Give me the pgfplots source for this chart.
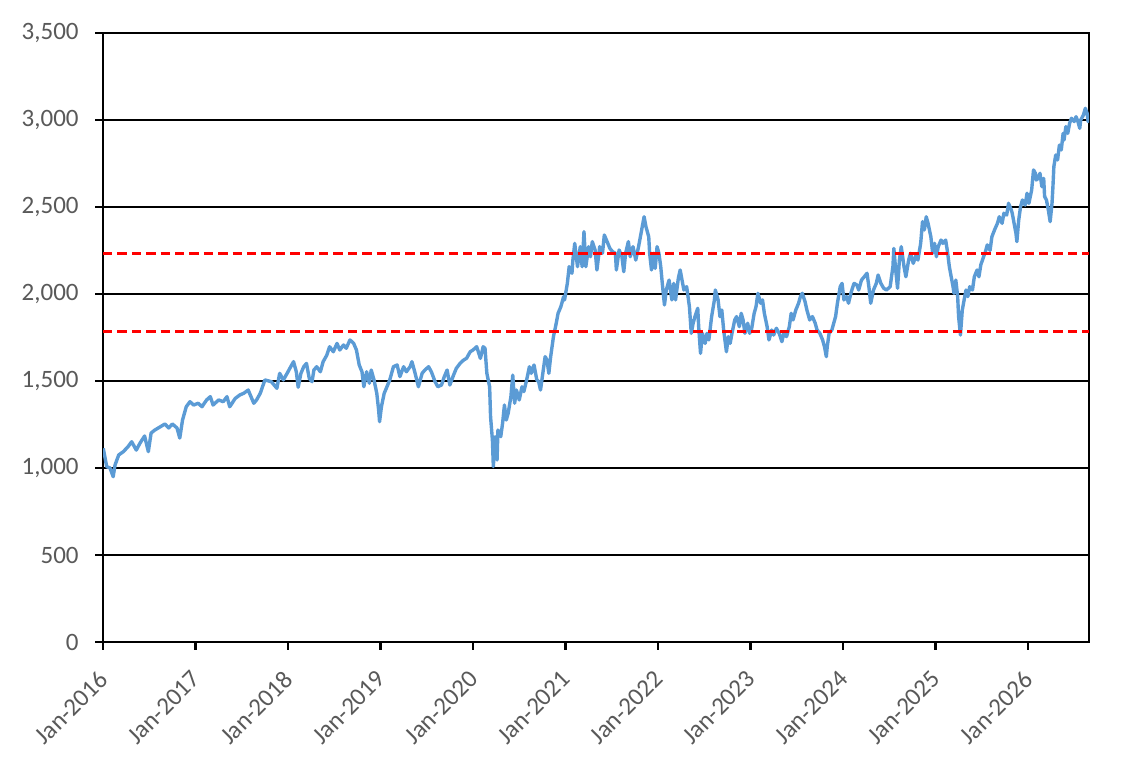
\documentclass[border=0pt]{standalone}
\usepackage{fontspec}
\setmainfont{Carlito}
\usepackage{pgfplots}
\usepackage{pgfplotstable}
\pgfplotsset{compat=1.18}
\definecolor{lineblue}{HTML}{5B9BD5}
\definecolor{ticktext}{HTML}{595959}
\pgfplotstableread{
year value
2016.003 1113
2016.04 1008
2016.076 1000
2016.11 950
2016.13 1017
2016.17 1075
2016.22 1094
2016.27 1122
2016.31 1151
2016.36 1103
2016.40 1143
2016.45 1184
2016.49 1094
2016.52 1201
2016.56 1218
2016.62 1237
2016.67 1253
2016.71 1230
2016.75 1253
2016.80 1230
2016.83 1172
2016.86 1276
2016.90 1352
2016.94 1381
2016.98 1362
2017.03 1372
2017.07 1352
2017.12 1391
2017.16 1410
2017.19 1362
2017.25 1391
2017.30 1381
2017.34 1410
2017.37 1352
2017.43 1400
2017.48 1420
2017.52 1429
2017.57 1448
2017.63 1372
2017.66 1391
2017.70 1429
2017.75 1506
2017.82 1496
2017.88 1458
2017.91 1544
2017.95 1506
2018.00 1553
2018.02 1573
2018.06 1611
2018.09 1553
2018.11 1464
2018.14 1544
2018.17 1582
2018.20 1601
2018.23 1515
2018.26 1496
2018.28 1563
2018.31 1582
2018.35 1553
2018.38 1611
2018.42 1649
2018.45 1697
2018.49 1668
2018.53 1716
2018.56 1678
2018.60 1707
2018.63 1688
2018.67 1736
2018.71 1716
2018.74 1678
2018.77 1592
2018.80 1553
2018.82 1467
2018.85 1553
2018.88 1487
2018.90 1563
2018.93 1506
2018.96 1429
2018.98 1333
2018.99 1266
2019.01 1352
2019.04 1429
2019.07 1467
2019.10 1506
2019.14 1582
2019.18 1592
2019.21 1525
2019.25 1582
2019.28 1553
2019.32 1582
2019.34 1611
2019.37 1553
2019.41 1467
2019.45 1544
2019.48 1563
2019.52 1582
2019.55 1553
2019.59 1496
2019.62 1467
2019.66 1477
2019.69 1525
2019.72 1563
2019.75 1477
2019.79 1534
2019.82 1573
2019.86 1601
2019.90 1621
2019.93 1630
2019.97 1668
2020.00 1678
2020.04 1697
2020.08 1630
2020.11 1697
2020.13 1688
2020.15 1544
2020.18 1467
2020.19 1295
2020.21 1161
2020.22 1008
2020.24 1180
2020.26 1046
2020.27 1218
2020.30 1180
2020.32 1257
2020.34 1362
2020.36 1276
2020.38 1314
2020.41 1410
2020.43 1534
2020.45 1372
2020.47 1448
2020.50 1391
2020.53 1467
2020.55 1439
2020.58 1506
2020.61 1582
2020.63 1544
2020.66 1592
2020.69 1506
2020.71 1496
2020.73 1448
2020.75 1525
2020.78 1640
2020.80 1621
2020.82 1544
2020.84 1640
2020.87 1755
2020.90 1832
2020.92 1889
2020.95 1927
2020.98 1985
2020.99 1966
2021.02 2061
2021.04 2157
2021.07 2119
2021.08 2195
2021.10 2291
2021.13 2157
2021.16 2272
2021.18 2157
2021.20 2358
2021.22 2157
2021.25 2272
2021.27 2214
2021.29 2301
2021.32 2253
2021.34 2138
2021.37 2272
2021.40 2234
2021.42 2339
2021.45 2301
2021.48 2262
2021.51 2243
2021.54 2234
2021.55 2138
2021.58 2253
2021.61 2214
2021.63 2128
2021.65 2234
2021.68 2301
2021.70 2214
2021.73 2272
2021.76 2195
2021.79 2272
2021.81 2329
2021.83 2387
2021.85 2444
2021.87 2387
2021.90 2329
2021.91 2234
2021.93 2138
2021.95 2234
2021.97 2147
2021.99 2272
2022.01 2234
2022.03 2157
2022.05 2042
2022.07 1937
2022.09 2023
2022.12 2080
2022.15 1966
2022.17 2061
2022.19 1966
2022.22 2090
2022.24 2138
2022.26 2080
2022.28 2023
2022.31 2042
2022.34 1927
2022.36 1774
2022.38 1832
2022.40 1870
2022.43 1918
2022.44 1812
2022.46 1659
2022.48 1774
2022.51 1716
2022.53 1774
2022.55 1736
2022.58 1870
2022.61 1966
2022.62 2023
2022.65 1966
2022.67 1870
2022.69 1908
2022.71 1793
2022.74 1668
2022.76 1755
2022.78 1716
2022.80 1774
2022.83 1851
2022.85 1870
2022.88 1812
2022.90 1889
2022.92 1851
2022.94 1774
2022.97 1832
2022.99 1774
2023.01 1793
2023.04 1889
2023.06 1927
2023.08 2004
2023.11 1947
2023.13 1966
2023.15 1889
2023.18 1812
2023.20 1736
2023.23 1793
2023.25 1764
2023.28 1803
2023.31 1774
2023.34 1726
2023.36 1774
2023.39 1755
2023.42 1812
2023.44 1889
2023.46 1851
2023.49 1908
2023.52 1947
2023.54 1985
2023.56 2004
2023.59 1956
2023.61 1908
2023.64 1851
2023.67 1870
2023.70 1832
2023.72 1793
2023.75 1774
2023.78 1736
2023.80 1697
2023.82 1640
2023.83 1697
2023.85 1774
2023.88 1793
2023.90 1832
2023.92 1870
2023.94 1947
2023.97 2042
2023.99 2061
2024.01 1966
2024.04 1985
2024.06 1947
2024.09 2013
2024.12 2061
2024.15 2052
2024.17 2023
2024.20 2080
2024.23 2099
2024.26 2119
2024.28 2042
2024.30 1947
2024.33 2023
2024.36 2061
2024.38 2109
2024.41 2061
2024.44 2033
2024.47 2023
2024.51 2042
2024.54 2157
2024.55 2262
2024.57 2138
2024.59 2033
2024.61 2195
2024.63 2272
2024.66 2157
2024.68 2099
2024.71 2195
2024.73 2234
2024.76 2176
2024.79 2224
2024.81 2195
2024.84 2291
2024.86 2416
2024.88 2368
2024.90 2444
2024.92 2406
2024.95 2329
2024.97 2234
2024.99 2291
2025.01 2214
2025.03 2272
2025.06 2310
2025.08 2291
2025.11 2310
2025.13 2243
2025.15 2157
2025.17 2099
2025.19 2042
2025.20 2004
2025.22 2080
2025.24 1985
2025.25 1870
2025.27 1764
2025.29 1908
2025.31 1966
2025.33 2023
2025.35 1985
2025.37 2042
2025.40 2023
2025.42 2099
2025.45 2138
2025.47 2099
2025.49 2167
2025.52 2214
2025.54 2243
2025.56 2282
2025.59 2250
2025.61 2329
2025.64 2370
2025.67 2406
2025.69 2444
2025.72 2406
2025.74 2464
2025.77 2454
2025.79 2521
2025.82 2483
2025.83 2464
2025.85 2406
2025.87 2349
2025.88 2301
2025.90 2425
2025.92 2502
2025.94 2540
2025.97 2511
2025.99 2579
2026.01 2521
2026.04 2598
2026.06 2713
2026.08 2694
2026.09 2655
2026.11 2665
2026.13 2694
2026.15 2617
2026.17 2665
2026.18 2560
2026.20 2540
2026.22 2483
2026.24 2416
2026.26 2521
2026.27 2617
2026.28 2732
2026.30 2799
2026.32 2770
2026.34 2856
2026.36 2828
2026.38 2923
2026.39 2885
2026.41 2962
2026.43 2923
2026.45 2981
2026.47 3010
2026.50 2991
2026.52 3019
2026.54 2991
2026.56 2952
2026.57 3000
2026.60 3029
2026.62 3067
2026.64 3038
2026.65 2991
2026.66 3010
}\series

\begin{document}
\begin{tikzpicture}
\begin{axis}[
  scale only axis,
  width=493pt, height=304.5pt,
  xmin=2016, xmax=2026.66,
  ymin=0, ymax=3500,
  xtick={2016,2017,2018,2019,2020,2021,2022,2023,2024,2025,2026},
  xticklabels={Jan-2016,Jan-2017,Jan-2018,Jan-2019,Jan-2020,Jan-2021,Jan-2022,Jan-2023,Jan-2024,Jan-2025,Jan-2026},
  ytick={0,500,1000,1500,2000,2500,3000,3500},
  ymajorgrids,
  grid style={black, line width=0.8pt},
  axis line style={black, line width=1.3pt},
  tick align=outside, tick pos=left,
  major tick length=4pt,
  tick style={black, line width=1.3pt},
  /pgf/number format/assume math mode=true,
  /pgf/number format/1000 sep={,},
  tick label style={font=\fontsize{12.5}{15}\selectfont, text=ticktext},
  yticklabel style={anchor=east, inner sep=0pt, xshift=-8pt},
  xticklabel style={yshift=-12.5pt, xshift=0.5pt, rotate=45, anchor=east, inner sep=0pt},
]
\addplot[lineblue, line width=1.7pt, line join=round, mark=none] table[x=year, y=value]{\series};
\addplot[red, line width=1.6pt, dash pattern=on 4.7pt off 2.5pt, mark=none] coordinates {(2016,2232) (2026.66,2232)};
\addplot[red, line width=1.6pt, dash pattern=on 4.7pt off 2.5pt, mark=none] coordinates {(2016,1785) (2026.66,1785)};
\end{axis}
\pgfresetboundingbox
\useasboundingbox ([shift={(-51.5pt,-63.5pt)}]current axis.south west) rectangle ([shift={(27.5pt,16.5pt)}]current axis.north east);
\end{tikzpicture}
\end{document}
